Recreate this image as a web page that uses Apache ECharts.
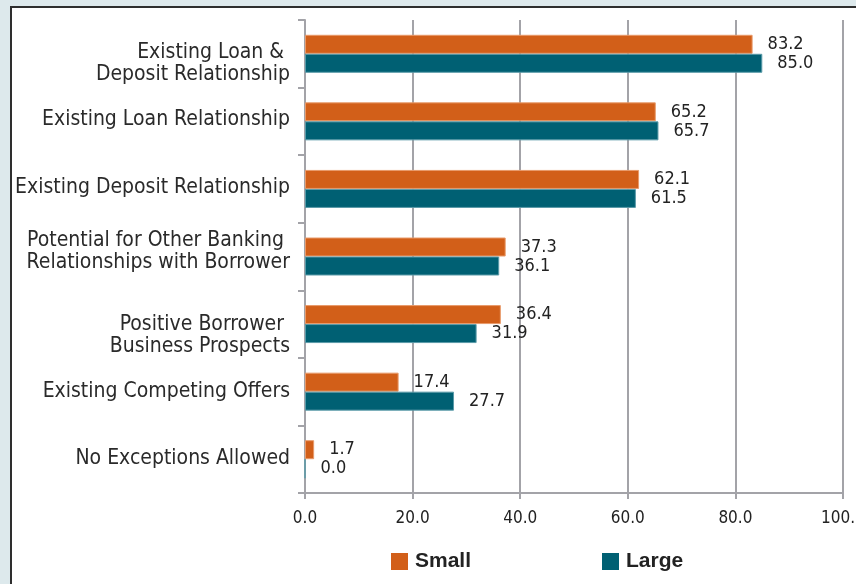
<!DOCTYPE html>
<html>
<head>
<meta charset="utf-8">
<script src="https://cdn.jsdelivr.net/npm/echarts@6/dist/echarts.min.js"></script>
<style>
html,body{margin:0;padding:0;background:#dde9ec;}
#chart{width:856px;height:584px;}
</style>
</head>
<body>
<div id="chart"></div>
<script>
const categories = [
  'Existing Loan & \nDeposit Relationship',
  'Existing Loan Relationship',
  'Existing Deposit Relationship',
  'Potential for Other Banking \nRelationships with Borrower',
  'Positive Borrower \nBusiness Prospects',
  'Existing Competing Offers',
  'No Exceptions Allowed'
];
const smallValues = [83.2, 65.2, 62.1, 37.3, 36.4, 17.4, 1.7];
const largeValues = [85.0, 65.7, 61.5, 36.1, 31.9, 27.7, 0.0];
const xTicks = [0, 20, 40, 60, 80, 100];
const seriesNames = ['Small', 'Large'];

// layout nudges for category labels (vertical offsets in px)
const labelNudge = [10, -2, -1, -5, 11, 0, -1];

const FONT = '"DejaVu Sans Condensed", "Liberation Sans Narrow", "Liberation Sans", sans-serif';
const chart = echarts.init(document.getElementById('chart'), null, {renderer: 'canvas'});

const rich = {};
labelNudge.forEach((n, i) => {
  rich['c' + i] = {
    fontFamily: FONT, fontSize: 21, lineHeight: 22, color: '#2a2a2a',
    align: 'right',
    padding: n >= 0 ? [n * 2, 0, 0, 0] : [0, 0, -n * 2, 0]
  };
});

function valueLabel() {
  return {
    show: true, position: 'right', distance: 15,
    fontFamily: FONT, fontSize: 18, color: '#222',
    formatter: p => p.value.toFixed(1)
  };
}

chart.setOption({
  backgroundColor: '#dde9ec',
  animation: false,
  graphic: [{
    type: 'rect', z: -10, silent: true,
    shape: {x: 11, y: 7, width: 900, height: 620},
    style: {fill: '#ffffff', stroke: '#2e2e2e', lineWidth: 2}
  }],
  grid: {left: 305, right: 13, top: 20, bottom: 91, containLabel: false, outerBoundsMode: 'none'},
  legend: {
    data: seriesNames,
    left: 386, top: 546,
    itemWidth: 17, itemHeight: 17, itemGap: 131,
    icon: 'rect',
    itemStyle: {borderWidth: 0},
    textStyle: {fontFamily: '"Liberation Sans", Arial, sans-serif', fontWeight: 'bold', fontSize: 21, color: '#222', padding: [0, 0, 0, 2]}
  },
  xAxis: {
    type: 'value', min: xTicks[0], max: xTicks[xTicks.length - 1], interval: xTicks[1] - xTicks[0],
    axisLine: {show: true, lineStyle: {color: '#a3a3a8', width: 2}},
    axisTick: {show: true, length: 6, lineStyle: {color: '#a3a3a8', width: 2}},
    splitLine: {show: true, lineStyle: {color: '#a3a3a8', width: 2}},
    axisLabel: {fontFamily: FONT, fontSize: 17, color: '#222', margin: 17, formatter: v => v.toFixed(1)}
  },
  yAxis: {
    type: 'category', data: categories, inverse: true,
    axisLine: {show: true, lineStyle: {color: '#a3a3a8', width: 2}},
    axisTick: {show: true, length: 7, lineStyle: {color: '#a3a3a8', width: 2}},
    splitLine: {show: false},
    axisLabel: {
      margin: 15, fontFamily: FONT, fontSize: 21, color: '#2a2a2a',
      formatter: (v, i) => v.split('\n').map(s => '{c' + i + '|' + s + '}').join('\n'),
      rich: rich
    }
  },
  series: [
    {
      name: seriesNames[0], type: 'bar', data: smallValues, barWidth: 19, barGap: '0%',
      itemStyle: {color: '#d25f19', borderColor: '#e89a6a', borderWidth: 1},
      label: valueLabel()
    },
    {
      name: seriesNames[1], type: 'bar', data: largeValues, barWidth: 19, barGap: '0%',
      itemStyle: {color: '#006073', borderColor: '#5a9aa8', borderWidth: 1},
      label: valueLabel()
    }
  ]
});
</script>
</body>
</html>
